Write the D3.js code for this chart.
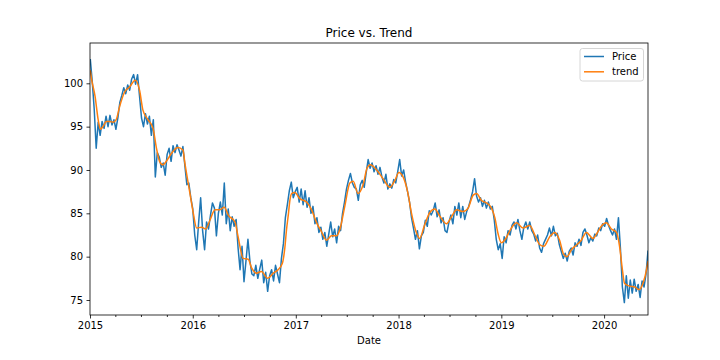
<!DOCTYPE html>
<html><head><meta charset="utf-8">
<script src="https://cdn.jsdelivr.net/npm/d3@7"></script>
<style>body{margin:0;background:#fff}svg{display:block;font-family:"DejaVu Sans",sans-serif}</style>
</head><body><svg id="c" width="720" height="360"></svg>
<script>
const chartTitle = "Price vs. Trend";
const xLabel = "Date";
const seriesNames = ["Price", "trend"];
const priceStart = "2015-01-02";
const priceWeekly = [
  // 2015
  102.8,100.2,97.0,92.5,95.5, 94.0,95.6,94.8,96.2, 95.0,96.3,95.2,95.8, 94.7,96.0,97.8,98.6,
  99.5,98.8,99.8,99.2,100.5, 101.0,99.9,101.0,98.5, 96.0,95.0,96.5,95.3,96.2, 94.0,95.8,89.2,92.0,
  91.5,90.3,90.8,89.4, 91.8,92.5,91.0,92.8,92.0, 92.9,92.3,91.6,92.7, 90.5,88.3,88.5,86.8,
  // 2016
  85.5,82.5,80.8,84.0,86.8, 83.0,80.8,84.0,83.2, 84.8,86.2,85.6,82.4, 85.0,86.3,84.8,88.5,83.8,
  85.5,83.0,84.6,83.5, 84.3,81.0,78.5,81.2, 77.1,79.5,82.0,79.5,78.0, 77.8,79.0,77.5,78.6,
  79.6,77.0,78.2,76.0,77.8, 78.5,77.2,79.0,78.0, 77.0,79.8,81.5,84.5, 86.0,87.6,88.6,86.8,87.5,
  // 2017
  88.0,86.3,87.8,86.0, 87.6,85.7,86.8,85.0, 85.8,83.8,84.5,82.8,83.4, 82.0,82.8,81.2,82.6,
  84.0,82.3,83.2,81.6, 83.5,83.0,85.0,86.3,87.8, 88.8,89.6,88.5,88.0, 87.8,86.5,88.3,88.8,
  88.0,89.7,91.2,90.2,90.8, 89.8,90.5,89.5,90.3, 89.2,88.5,89.5,87.8, 88.4,87.9,88.9,88.5,89.8,
  // 2018
  91.2,89.3,90.0,88.6, 87.5,86.3,84.5,83.3, 82.0,83.0,80.9,82.4,82.8, 84.2,83.5,85.3,84.8,
  85.3,86.2,84.6,85.4, 83.9,84.5,83.0,82.8,84.0, 84.8,83.8,85.8,84.8, 86.2,84.5,85.8,84.3,85.2,
  85.8,86.6,87.5,89.0, 87.0,86.3,86.8,85.8, 86.5,85.6,86.3,85.5,85.8, 84.2,82.0,80.8,81.5,
  // 2019
  79.8,82.3,81.6,83.0, 82.5,83.6,84.0,83.2, 84.3,83.0,82.0,83.4,84.0, 83.2,84.0,83.0,82.6,
  81.8,82.5,81.0,80.5,81.5, 82.0,82.5,83.3,82.4, 83.5,82.4,82.7,81.4, 80.6,79.8,80.4,79.5,80.6,
  81.0,80.2,81.6,81.2, 82.0,81.3,82.8,83.2, 82.5,81.6,82.2,81.8,82.6, 82.4,83.3,83.0,83.8,
  // 2020
  83.5,84.4,83.6,83.0,82.5, 83.2,82.0,84.5,81.0, 76.5,74.7,77.8,75.2, 77.3,75.8,77.4,76.0,
  76.8,75.3,77.2,76.5,78.0, 80.7
];
const trendDates = [
  "2015-01-02","2015-01-07","2015-01-19","2015-01-30","2015-02-07","2015-02-16","2015-02-28","2015-03-13",
  "2015-03-24","2015-04-04","2015-04-16","2015-05-04","2015-05-22","2015-06-11","2015-06-26","2015-07-08",
  "2015-07-26","2015-08-13","2015-08-24","2015-09-05","2015-09-17","2015-09-29","2015-10-17","2015-11-09",
  "2015-11-27","2015-12-04","2015-12-22","2016-01-03","2016-01-15","2016-02-01","2016-02-16","2016-03-02",
  "2016-03-20","2016-04-06","2016-04-22","2016-05-06","2016-05-30","2016-06-10","2016-06-28","2016-07-16",
  "2016-07-28","2016-08-15","2016-09-01","2016-09-23","2016-10-13","2016-10-30","2016-11-14","2016-11-23",
  "2016-11-29","2016-12-06","2016-12-11","2016-12-18","2016-12-29","2017-01-15","2017-02-08","2017-02-26",
  "2017-03-16","2017-04-02","2017-04-20","2017-05-08","2017-05-26","2017-06-06","2017-06-24","2017-07-12",
  "2017-07-24","2017-08-10","2017-08-28","2017-09-11","2017-09-23","2017-10-15","2017-11-07","2017-12-01",
  "2017-12-19","2018-01-02","2018-01-17","2018-02-02","2018-02-16","2018-03-06","2018-03-17","2018-04-02",
  "2018-04-22","2018-05-10","2018-05-27","2018-06-20","2018-07-08","2018-07-26","2018-08-18","2018-09-05",
  "2018-09-23","2018-10-05","2018-10-22","2018-11-09","2018-11-27","2018-12-09","2018-12-20","2019-01-01",
  "2019-01-17","2019-02-02","2019-02-24","2019-03-19","2019-04-12","2019-04-30","2019-05-17","2019-06-01",
  "2019-06-22","2019-07-10","2019-07-27","2019-08-10","2019-08-22","2019-09-07","2019-09-27","2019-10-12",
  "2019-10-30","2019-11-23","2019-12-07","2019-12-22","2020-01-09","2020-01-27","2020-02-14","2020-02-25",
  "2020-03-06","2020-03-14","2020-04-01","2020-04-19","2020-05-04","2020-05-18","2020-06-01","2020-06-05"
];
const trendValues = [
  101.5,100.4,98.5,95.8,94.7,95.0,95.6,95.6,
  95.5,95.8,97.3,99.0,99.6,100.35,99.2,96.9,
  95.8,94.8,92.7,91.0,90.6,91.0,91.9,92.6,
  92.3,90.8,87.3,85.0,83.3,83.4,83.2,84.2,
  85.4,85.4,85.7,84.8,84.0,82.3,79.8,79.7,
  78.7,78.1,78.3,77.5,78.1,78.5,79.2,81.0,
  83.1,85.0,86.5,87.3,87.4,86.7,86.3,85.4,
  83.9,82.9,81.9,82.4,82.4,83.1,85.8,88.5,
  88.7,87.3,88.3,90.2,90.6,90.0,89.0,88.0,
  88.8,89.7,89.2,87.5,85.0,82.7,82.1,83.5,
  85.1,85.5,84.7,83.8,84.6,85.4,85.2,85.6,
  87.1,87.3,86.5,86.2,85.6,84.5,82.7,81.6,
  82.1,83.1,83.9,83.3,83.6,82.5,81.4,81.2,
  82.3,82.8,81.9,80.3,80.0,80.8,81.4,81.9,
  82.8,82.1,82.7,83.5,83.9,83.2,82.8,81.2,
  78.5,76.9,76.6,76.5,76.2,76.9,78.7,79.5
];
const yTicks = [75, 80, 85, 90, 95, 100];
const xTickYears = ["2015","2016","2017","2018","2019","2020"];

const parse = d3.timeParse("%Y-%m-%d");
const start = parse(priceStart);
const priceData = priceWeekly.map((v, i) => ({d: d3.timeDay.offset(start, 7 * i), v}));
const trendData = trendDates.map((s, i) => ({d: parse(s), v: trendValues[i]}));

const L = 90, R = 648, T = 43, B = 315;
const x = d3.scaleTime().domain([parse("2015-01-01"), parse("2020-06-05")]).range([L, R]);
const y = d3.scaleLinear().domain([73.27, 104.65]).range([B, T]);

const svg = d3.select("#c");
svg.append("defs").append("clipPath").attr("id", "clip")
  .append("rect").attr("x", L).attr("y", T).attr("width", R - L).attr("height", B - T);

const line = d3.line().x(d => x(d.d)).y(d => y(d.v));
const g = svg.append("g").attr("clip-path", "url(#clip)");
g.append("path").datum(priceData).attr("d", line.curve(d3.curveLinear))
  .attr("fill", "none").attr("stroke", "#1f77b4").attr("stroke-width", 1.5).attr("stroke-linejoin", "round");
g.append("path").datum(trendData).attr("d", d3.line().x(d => x(d.d)).y(d => y(d.v)).curve(d3.curveMonotoneX))
  .attr("fill", "none").attr("stroke", "#ff7f0e").attr("stroke-width", 1.5);

// axes
const yAxis = d3.axisLeft(y).tickValues(yTicks).tickSize(3.5).tickPadding(3.5).tickFormat(d3.format("d"));
const ya = svg.append("g").attr("transform", `translate(${L},0)`).call(yAxis);
const yearDates = xTickYears.map(s => parse(s + "-01-01"));
const xAxis = d3.axisBottom(x).tickValues(yearDates).tickSize(3.5).tickPadding(3.5).tickFormat(d3.timeFormat("%Y"));
const xa = svg.append("g").attr("transform", `translate(0,${B})`).call(xAxis);
const minor = d3.timeMonth.every(3).range(parse("2015-01-01"), parse("2020-06-05"))
  .filter(d => d.getMonth() !== 0);
const xm = svg.append("g").attr("transform", `translate(0,${B})`)
  .call(d3.axisBottom(x).tickValues(minor).tickSize(2).tickFormat(""));
[ya, xa, xm].forEach(a => {
  a.select(".domain").remove();
  a.selectAll("line").attr("stroke", "#000").attr("stroke-width", 0.8);
  a.selectAll("text").attr("fill", "#000").style("font-size", "10px").style("font-family", "DejaVu Sans");
});

svg.append("rect").attr("x", L).attr("y", T).attr("width", R - L).attr("height", B - T)
  .attr("fill", "none").attr("stroke", "#000").attr("stroke-width", 0.8);

svg.append("text").attr("x", (L + R) / 2).attr("y", 37).attr("text-anchor", "middle")
  .style("font-size", "12px").text(chartTitle);
svg.append("text").attr("x", (L + R) / 2).attr("y", 344).attr("text-anchor", "middle")
  .style("font-size", "10px").text(xLabel);

// legend
const lg = svg.append("g");
lg.append("rect").attr("x", 580).attr("y", 48.5).attr("width", 63.5).attr("height", 32.5)
  .attr("rx", 2.5).attr("fill", "#fff").attr("fill-opacity", 0.8).attr("stroke", "#cccccc").attr("stroke-width", 0.8);
const colors = ["#1f77b4", "#ff7f0e"];
seriesNames.forEach((n, i) => {
  const yy = 56.5 + i * 15.3;
  lg.append("line").attr("x1", 584).attr("x2", 604).attr("y1", yy).attr("y2", yy)
    .attr("stroke", colors[i]).attr("stroke-width", 1.5);
  lg.append("text").attr("x", 612).attr("y", yy + 3.6).style("font-size", "10px").text(n);
});
</script></body></html>
